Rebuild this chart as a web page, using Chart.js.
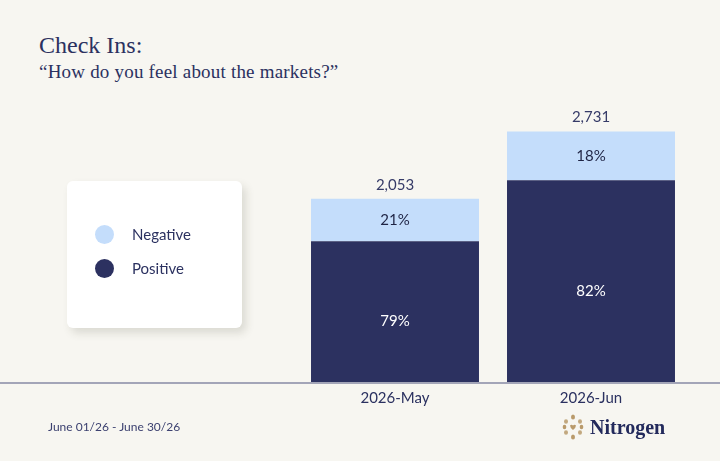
<!DOCTYPE html>
<html lang="en">
<head>
    <meta charset="UTF-8">
    <title>Check Ins</title>
    <script src="https://cdn.jsdelivr.net/npm/chart.js"></script>
    <style>
        body {
            margin: 0;
            width: 720px;
            height: 461px;
            overflow: hidden;
            position: relative;
            background: #f7f6f1;
            font-family: Lato, sans-serif;
            color: #2b3160;
        }
        #chart {
            position: absolute;
            left: 0;
            top: 0;
        }
        .title {
            position: absolute;
            left: 39px;
            top: 33px;
            margin: 0;
            font: 24px/24px "Liberation Serif", serif;
            font-weight: normal;
            color: #2b3160;
        }
        .subtitle {
            position: absolute;
            left: 39px;
            top: 62px;
            margin: 0;
            font: 19px/19px "Liberation Serif", serif;
            color: #2b3160;
            letter-spacing: 0.2px;
        }
        .legend-box {
            position: absolute;
            left: 67px;
            top: 181px;
            width: 175px;
            height: 147px;
            background: #fff;
            border-radius: 6px;
            box-shadow: 4px 5px 8px rgba(60, 60, 40, 0.15);
        }
        .legend-item {
            position: absolute;
            left: 28px;
            height: 20px;
            font-size: 15px;
            line-height: 20px;
            color: #2b3160;
        }
        .legend-item span.dot {
            position: absolute;
            left: 0;
            top: 0;
            width: 19px;
            height: 19px;
            border-radius: 50%;
        }
        .legend-item span.txt {
            position: absolute;
            left: 37px;
            top: -1px;
            white-space: nowrap;
        }
        .footer {
            position: absolute;
            left: 48px;
            top: 419px;
            font-size: 12px;
            line-height: 16px;
            color: #3c4170;
        }
        .logo {
            position: absolute;
            left: 562px;
            top: 414px;
            height: 26px;
            display: flex;
            align-items: center;
        }
        .logo span {
            font: bold 20px "Liberation Serif", serif;
            color: #232a5c;
            margin-left: 6px;
        }
    </style>
</head>
<body>

    <h1 class="title">Check Ins:</h1>
    <p class="subtitle">“How do you feel about the markets?”</p>

    <canvas id="chart" width="720" height="461"></canvas>

    <!-- legend card -->
    <div class="legend-box" id="legendBox"></div>

    <div class="footer">June 01/26 - June 30/26</div>
    <div class="logo">
        <svg width="22" height="26" viewBox="0 0 22 26">
            <g fill="#b99a6b">
                <ellipse cx="11" cy="3" rx="2" ry="2.5"/>
                <ellipse cx="11" cy="23" rx="2" ry="2.5"/>
                <ellipse cx="4" cy="7.5" rx="2" ry="2.3" opacity="0.85"/>
                <ellipse cx="18" cy="7.5" rx="2" ry="2.3" opacity="0.85"/>
                <ellipse cx="2.5" cy="13" rx="1.8" ry="2.2"/>
                <ellipse cx="19.5" cy="13" rx="1.8" ry="2.2"/>
                <ellipse cx="4" cy="18.5" rx="2" ry="2.3" opacity="0.85"/>
                <ellipse cx="18" cy="18.5" rx="2" ry="2.3" opacity="0.85"/>
                <path d="M8 11.5 Q9.5 10 11 11.5 Q12.5 10 14 11.5 Q14 13.5 11 16 Q8 13.5 8 11.5 Z"/>
            </g>
        </svg>
        <span>Nitrogen</span>
    </div>

    <script>
        const categories = ["2026-May", "2026-Jun"];
        const positive = [1622, 2239];
        const negative = [431, 492];

        const navy = "#2c3160";
        const lightBlue = "#c4ddfb";

        const totals = categories.map((c, i) => positive[i] + negative[i]);

        // full-width axis line under the bars
        const baseLine = {
            id: "baseLine",
            afterDatasetsDraw(chart) {
                const ctx = chart.ctx;
                const y = chart.chartArea.bottom + 1;
                ctx.save();
                ctx.strokeStyle = "#a3a5b8";
                ctx.lineWidth = 2;
                ctx.beginPath();
                ctx.moveTo(0, y);
                ctx.lineTo(chart.width, y);
                ctx.stroke();
                ctx.restore();
            }
        };

        // percent inside each segment, total on top
        const barLabels = {
            id: "barLabels",
            afterDatasetsDraw(chart) {
                const ctx = chart.ctx;
                ctx.save();
                ctx.font = "15px Lato";
                ctx.textAlign = "center";
                ctx.textBaseline = "middle";
                chart.data.datasets.forEach((ds, di) => {
                    const meta = chart.getDatasetMeta(di);
                    meta.data.forEach((bar, i) => {
                        const pct = Math.round(ds.data[i] / totals[i] * 100) + "%";
                        ctx.fillStyle = di === 0 ? "#ffffff" : "#1f2444";
                        ctx.fillText(pct, bar.x, (bar.y + bar.base) / 2);
                    });
                });
                const top = chart.getDatasetMeta(chart.data.datasets.length - 1);
                ctx.fillStyle = "#363b68";
                top.data.forEach((bar, i) => {
                    ctx.fillText(totals[i].toLocaleString("en-US"), bar.x, bar.y - 14);
                });
                ctx.restore();
            }
        };

        const chart = new Chart(document.getElementById("chart"), {
            type: "bar",
            data: {
                labels: categories,
                datasets: [
                    { label: "Positive", data: positive, backgroundColor: navy },
                    { label: "Negative", data: negative, backgroundColor: lightBlue }
                ]
            },
            options: {
                responsive: false,
                animation: false,
                layout: {
                    padding: { left: 297, right: 31, top: 105, bottom: 47 }
                },
                datasets: {
                    bar: { categoryPercentage: 0.857, barPercentage: 1 }
                },
                scales: {
                    x: {
                        stacked: true,
                        grid: { display: false, drawTicks: false },
                        border: { display: false },
                        ticks: {
                            padding: 7,
                            color: "#2b3160",
                            font: { family: "Lato", size: 15 }
                        }
                    },
                    y: {
                        stacked: true,
                        display: false,
                        min: 200,
                        max: 3000
                    }
                },
                plugins: {
                    legend: { display: false },
                    tooltip: { enabled: false }
                }
            },
            plugins: [baseLine, barLabels]
        });

        // legend card from the datasets, top segment first
        const box = document.getElementById("legendBox");
        chart.data.datasets.slice().reverse().forEach((ds, i) => {
            const item = document.createElement("div");
            item.className = "legend-item";
            item.style.top = (44 + i * 34) + "px";
            item.innerHTML = `<span class="dot" style="background:${ds.backgroundColor}"></span><span class="txt">${ds.label}</span>`;
            box.appendChild(item);
        });
    </script>

</body>
</html>
